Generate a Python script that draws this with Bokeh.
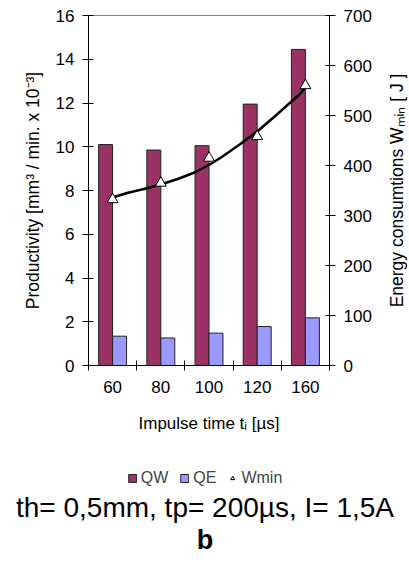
from bokeh.plotting import figure
from bokeh.layouts import column, row
from bokeh.models import (Range1d, LinearAxis, FixedTicker, Legend, LegendItem, Title,
                          ColumnDataSource)
from bokeh.embed import file_html
from bokeh.resources import INLINE

# ---- data ----
categories = ["60", "80", "100", "120", "160"]
qw = [10.1, 9.85, 10.05, 11.95, 14.45]
qe = [1.34, 1.26, 1.48, 1.78, 2.18]
wmin = [332, 365, 415, 458, 560]
# trend curve (position along category axis, J)
trend_pos = [0.5, 0.8, 1.15, 1.5, 1.85, 2.2, 2.5, 2.75, 3.15, 3.5, 3.85, 4.2, 4.4, 4.5]
trend_val = [336, 345, 353, 362, 373, 386, 401, 416, 443, 468, 497, 527, 544, 557]
left_ticks = [0, 2, 4, 6, 8, 10, 12, 14, 16]
right_ticks = [0, 100, 200, 300, 400, 500, 600, 700]
y_title = "Productivity [mm³ / min. x 10⁻³]"
y2_title = "Energy consumtions Wₘᵢₙ [ J ]"
x_title = "Impulse time tᵢ [µs]"
title_text = "th= 0,5mm, tp= 200µs, I= 1,5A"
sub_text = "b"

FONT = "Liberation Sans"
QW_COLOR = "#993366"
QE_COLOR = "#9999FF"

centers = [i + 0.5 for i in range(len(categories))]
bw = 0.29
src = ColumnDataSource(dict(
    qw_x=[c - bw / 2 for c in centers],
    qe_x=[c + bw / 2 for c in centers],
    qw=qw, qe=qe, w=wmin, c=centers,
))

p = figure(frame_width=241, frame_height=350, output_backend="svg", toolbar_location=None,
           x_range=Range1d(0, len(categories)), y_range=Range1d(0, 16),
           min_border_left=88, min_border_right=54, min_border_top=15, min_border_bottom=80)
p.extra_y_ranges = {"w": Range1d(0, 700)}
p.grid.visible = False
p.outline_line_color = "#808080"
p.background_fill_color = "white"
p.border_fill_color = "white"

r_qw = p.vbar(x="qw_x", top="qw", width=bw, source=src, fill_color=QW_COLOR,
              line_color="#222222", line_width=1)
r_qe = p.vbar(x="qe_x", top="qe", width=bw, source=src, fill_color=QE_COLOR,
              line_color="#222222", line_width=1)
p.line(trend_pos, trend_val, y_range_name="w", line_color="black", line_width=2.5)
r_w = p.scatter(x="c", y="w", source=src, y_range_name="w", marker="triangle", size=11,
                fill_color="white", line_color="black", line_width=1)

# x axis
xa = p.xaxis[0]
xa.ticker = FixedTicker(ticks=centers, minor_ticks=list(range(len(categories) + 1)))
xa.major_label_overrides = {c: lab for c, lab in zip(centers, categories)}
xa.major_tick_out = 5
xa.major_tick_in = 0
xa.minor_tick_in = 5
xa.minor_tick_out = 5
xa.minor_tick_line_color = "black"
xa.major_label_standoff = 10
xa.axis_label = x_title
xa.axis_label_standoff = 18

# left axis
ya = p.yaxis[0]
ya.ticker = FixedTicker(ticks=left_ticks)
ya.major_tick_in = 5
ya.major_tick_out = 6
ya.minor_tick_line_color = None
ya.major_label_standoff = 8
ya.axis_label = y_title
ya.axis_label_standoff = 10

# right axis (its title is drawn by the narrow panel beside it)
ra = LinearAxis(y_range_name="w", ticker=FixedTicker(ticks=right_ticks))
ra.major_tick_in = 4
ra.major_tick_out = 6
ra.minor_tick_line_color = None
ra.major_label_standoff = 8
p.add_layout(ra, "right")

for ax in [xa, ya, ra]:
    ax.axis_line_color = "black"
    ax.major_tick_line_color = "black"
    ax.major_label_text_font = FONT
    ax.major_label_text_font_size = "17px"
    ax.major_label_text_color = "black"
    ax.axis_label_text_font = FONT
    ax.axis_label_text_font_size = "17.5px"
    ax.axis_label_text_font_style = "normal"
    ax.axis_label_text_color = "black"
xa.major_tick_line_color = None
xa.axis_label_text_font_size = "17px"

# ---- narrow side panel carrying the right-hand title (reads bottom to top) ----
p3 = figure(width=26, height=445, output_backend="svg", toolbar_location=None,
            x_range=Range1d(0, 1), y_range=Range1d(0, 1),
            min_border_left=0, min_border_right=0, min_border_top=15, min_border_bottom=80)
p3.xaxis.visible = False
p3.grid.visible = False
p3.outline_line_color = None
p3.background_fill_color = "white"
p3.border_fill_color = "white"
a3 = p3.yaxis[0]
a3.ticker = FixedTicker(ticks=[])
a3.axis_line_color = None
a3.major_tick_line_color = None
a3.minor_tick_line_color = None
a3.major_tick_in = 0
a3.major_tick_out = 0
a3.major_label_standoff = 0
a3.major_label_text_font_size = "0px"
a3.axis_label = y2_title
a3.axis_label_standoff = 0
a3.axis_label_text_font = FONT
a3.axis_label_text_font_size = "17.5px"
a3.axis_label_text_font_style = "normal"
a3.axis_label_text_color = "black"

# ---- lower panel: legend and caption ----
p2 = figure(width=409, height=118, output_backend="svg", toolbar_location=None,
            x_range=Range1d(0, 1), y_range=Range1d(0, 1),
            min_border=0, min_border_left=0, min_border_right=0,
            min_border_top=0, min_border_bottom=0)
p2.axis.visible = False
p2.grid.visible = False
p2.outline_line_color = None
p2.background_fill_color = "white"
p2.border_fill_color = "white"

l_qw = p2.vbar(x=centers, top=qw, width=bw, fill_color=QW_COLOR, line_color="#222222",
               line_width=1, visible=False)
l_qe = p2.vbar(x=centers, top=qe, width=bw, fill_color=QE_COLOR, line_color="#222222",
               line_width=1, visible=False)
l_w = p2.scatter(x=centers, y=wmin, marker="triangle", size=10, fill_color="white",
                 line_color="black", line_width=1, visible=False)

legend = Legend(items=[LegendItem(label="QW", renderers=[l_qw]),
                       LegendItem(label="QE", renderers=[l_qe]),
                       LegendItem(label="Wmin", renderers=[l_w])],
                orientation="horizontal", location="top_center")
legend.border_line_color = None
legend.background_fill_alpha = 0
legend.inactive_fill_alpha = 0
legend.label_text_font = FONT
legend.label_text_font_size = "16px"
legend.glyph_width = 10
legend.glyph_height = 10
legend.label_standoff = 4
legend.spacing = 11
legend.padding = 0
legend.margin = 24
legend.click_policy = "none"
p2.add_layout(legend, "center")

t1 = Title(text=title_text, align="center", text_font=FONT, text_font_size="28px",
           text_font_style="normal", text_color="black", standoff=0)
t2 = Title(text=sub_text, align="center", text_font=FONT, text_font_size="27px",
           text_font_style="bold", text_color="black", standoff=0)
pad = Title(text=" ", align="center", text_font=FONT, text_font_size="7px", standoff=0)
p2.add_layout(t1, "below")
p2.add_layout(t2, "below")
p2.add_layout(pad, "below")

layout = column(row(p, p3, spacing=0), p2, spacing=0)
open("out.html", "w").write(file_html(layout, INLINE))
